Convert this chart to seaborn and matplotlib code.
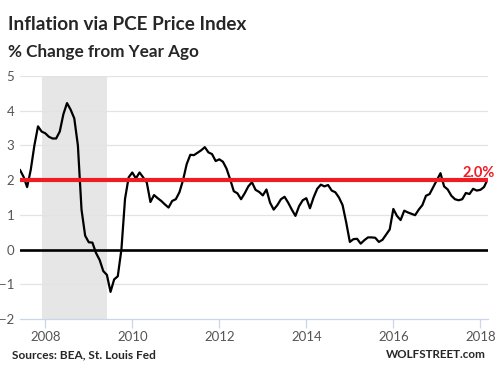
import numpy as np
import pandas as pd
import matplotlib
matplotlib.use('Agg')
import matplotlib.pyplot as plt
import seaborn as sns

# PCE price index, % change from year ago, monthly Jun 2007 .. Mar 2018
START_YEAR = 2007 + 5 / 12
pce_yoy = [
    2.3, 2.1, 1.8, 2.3, 3.0, 3.55, 3.4, 3.35, 3.25, 3.2, 3.2, 3.4,
    3.9, 4.22, 4.03, 3.78, 3.0, 1.15, 0.4, 0.21, 0.2, -0.1, -0.3, -0.62,
    -0.73, -1.22, -0.86, -0.77, 0.0, 1.46, 2.08, 2.22, 2.05, 2.22, 2.08, 1.93,
    1.37, 1.57, 1.48, 1.4, 1.3, 1.21, 1.4, 1.45, 1.65, 2.0, 2.46, 2.73,
    2.72, 2.79, 2.86, 2.95, 2.8, 2.75, 2.55, 2.6, 2.53, 2.33, 2.02, 1.68,
    1.62, 1.45, 1.62, 1.82, 1.94, 1.72, 1.66, 1.56, 1.73, 1.35, 1.15, 1.28,
    1.45, 1.52, 1.35, 1.15, 0.97, 1.25, 1.42, 1.48, 1.19, 1.5, 1.75, 1.87,
    1.82, 1.86, 1.7, 1.65, 1.5, 1.28, 0.78, 0.22, 0.3, 0.31, 0.17, 0.27,
    0.35, 0.35, 0.34, 0.22, 0.28, 0.43, 0.58, 1.17, 0.97, 0.85, 1.12, 1.07,
    1.03, 0.99, 1.15, 1.28, 1.55, 1.6, 1.8, 2.0, 2.2, 1.82, 1.73, 1.55,
    1.45, 1.42, 1.45, 1.63, 1.6, 1.75, 1.7, 1.72, 1.8, 2.02,
]
recession = (2007 + 11 / 12, 2009 + 5 / 12)
target = 2.0
year_ticks = [2008, 2010, 2012, 2014, 2016, 2018]
y_ticks = [-2, -1, 0, 1, 2, 3, 4, 5]

df = pd.DataFrame({
    'year': START_YEAR + np.arange(len(pce_yoy)) / 12,
    'pce': pce_yoy,
})

sns.set_style('white')
plt.rcParams['font.family'] = ['Lato', 'DejaVu Sans']

fig = plt.figure(figsize=(4.97, 3.82), dpi=100)
ax = fig.add_axes([0.040, 0.165, 0.942, 0.636])

ax.axvspan(*recession, color='#e6e6e6', lw=0, zorder=0)
for yv in y_ticks:
    if yv != -2:
        ax.axhline(yv, color='#e3e3e3', lw=0.9, zorder=1)
ax.axhline(0, color='black', lw=1.9, zorder=2)

sns.lineplot(data=df, x='year', y='pce', ax=ax, color='black', lw=1.6, zorder=3)
ax.axhline(target, color='#ee1c25', lw=3.0, zorder=4)

ax.set_xlim(df['year'].iloc[0], df['year'].iloc[-1] + 0.01)
ax.set_ylim(-2, 5)
ax.set_xticks(year_ticks)
ax.set_yticks(y_ticks)
ax.set_xlabel('')
ax.set_ylabel('')
ax.tick_params(axis='x', length=6.5, width=0.9, color='#ccd6eb', pad=2,
               labelsize=9.5, labelcolor='#555555', direction='out', bottom=True)
ax.tick_params(axis='y', length=0, pad=4, labelsize=9.5, labelcolor='#555555')
for s in ['top', 'right', 'left']:
    ax.spines[s].set_visible(False)
ax.spines['bottom'].set_color('#ccd6eb')
ax.spines['bottom'].set_linewidth(0.9)

fig.text(0.995, 0.537, f'{target:.1f}%', ha='right', va='baseline',
         color='#ee1c25', fontsize=10.5, fontweight='bold')

fig.text(0.016, 0.921, 'Inflation via PCE Price Index', fontsize=13.6,
         fontweight='bold', va='baseline', ha='left')
fig.text(0.016, 0.851, '% Change from Year Ago', fontsize=12.3,
         fontweight='bold', va='baseline', ha='left')
fig.text(0.024, 0.063, 'Sources: BEA, St. Louis Fed', fontsize=8.6,
         fontweight='bold', va='baseline', ha='left')
fig.text(0.978, 0.063, 'WOLFSTREET.com', fontsize=8.4,
         fontweight='bold', va='baseline', ha='right')

fig.savefig('out.png', dpi=100)
